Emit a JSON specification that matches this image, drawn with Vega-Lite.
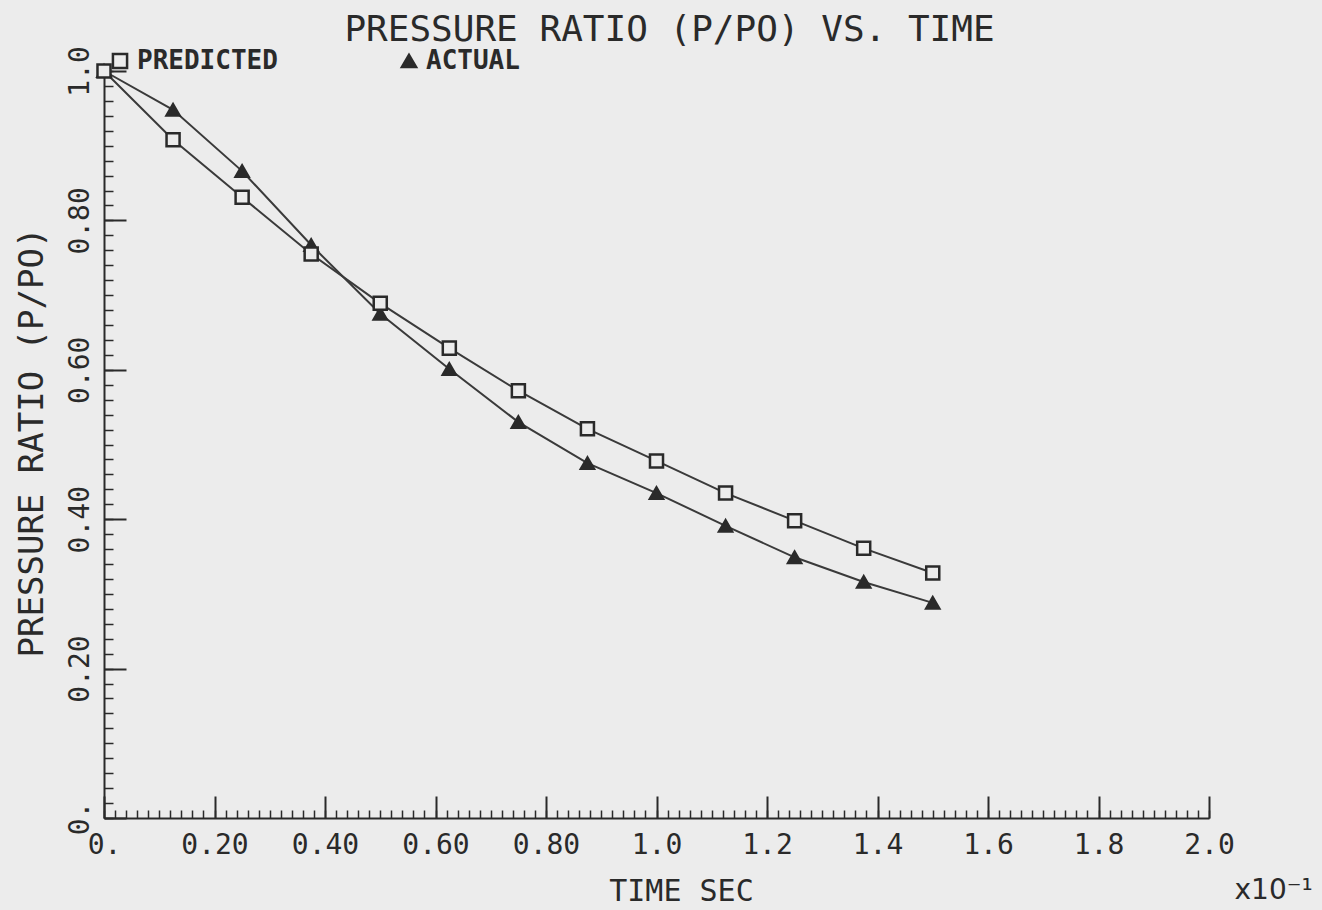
{
  "$schema": "https://vega.github.io/schema/vega-lite/v6.json",
  "width": 1105,
  "height": 747,
  "autosize": "none",
  "padding": {"left": 104, "top": 71, "right": 113, "bottom": 92},
  "background": "#ececec",
  "config": {
    "view": {"stroke": null},
    "font": "DejaVu Sans Mono",
    "axis": {"grid": false}
  },
  "title": {
    "text": "PRESSURE RATIO (P/PO) VS. TIME",
    "font": "DejaVu Sans Mono",
    "fontSize": 36,
    "fontWeight": "normal",
    "color": "#2a2a2a",
    "anchor": "middle",
    "baseline": "alphabetic",
    "dx": 13,
    "offset": -31
  },
  "data": {
    "values": [
      {"t": 0, "p": 1.0, "series": "ACTUAL"},
      {"t": 0.125, "p": 0.948, "series": "ACTUAL"},
      {"t": 0.25, "p": 0.866, "series": "ACTUAL"},
      {"t": 0.375, "p": 0.767, "series": "ACTUAL"},
      {"t": 0.5, "p": 0.675, "series": "ACTUAL"},
      {"t": 0.625, "p": 0.601, "series": "ACTUAL"},
      {"t": 0.75, "p": 0.530, "series": "ACTUAL"},
      {"t": 0.875, "p": 0.475, "series": "ACTUAL"},
      {"t": 1.0, "p": 0.435, "series": "ACTUAL"},
      {"t": 1.125, "p": 0.391, "series": "ACTUAL"},
      {"t": 1.25, "p": 0.349, "series": "ACTUAL"},
      {"t": 1.375, "p": 0.316, "series": "ACTUAL"},
      {"t": 1.5, "p": 0.288, "series": "ACTUAL"},
      {"t": 0, "p": 1.0, "series": "PREDICTED"},
      {"t": 0.125, "p": 0.908, "series": "PREDICTED"},
      {"t": 0.25, "p": 0.831, "series": "PREDICTED"},
      {"t": 0.375, "p": 0.755, "series": "PREDICTED"},
      {"t": 0.5, "p": 0.689, "series": "PREDICTED"},
      {"t": 0.625, "p": 0.629, "series": "PREDICTED"},
      {"t": 0.75, "p": 0.572, "series": "PREDICTED"},
      {"t": 0.875, "p": 0.521, "series": "PREDICTED"},
      {"t": 1.0, "p": 0.478, "series": "PREDICTED"},
      {"t": 1.125, "p": 0.435, "series": "PREDICTED"},
      {"t": 1.25, "p": 0.398, "series": "PREDICTED"},
      {"t": 1.375, "p": 0.361, "series": "PREDICTED"},
      {"t": 1.5, "p": 0.328, "series": "PREDICTED"}
    ]
  },
  "layer": [
    {
      "mark": {"type": "line", "stroke": "#3a3a3a", "strokeWidth": 2},
      "encoding": {
        "x": {
          "field": "t", "type": "quantitative",
          "scale": {"domain": [0, 2], "nice": false, "zero": false},
          "axis": {
            "orient": "bottom",
            "values": [0, 0.2, 0.4, 0.6, 0.8, 1.0, 1.2, 1.4, 1.6, 1.8, 2.0],
            "labelExpr": "datum.value == 0 ? '0.' : (datum.value < 0.9 ? format(datum.value, '.2f') : format(datum.value, '.1f'))",
            "ticks": false,
            "domain": true, "domainColor": "#2a2a2a", "domainWidth": 2,
            "labelFont": "DejaVu Sans Mono", "labelFontSize": 28, "labelColor": "#2a2a2a",
            "labelBaseline": "alphabetic", "labelPadding": 35,
            "labelFlush": false, "labelOverlap": false,
            "title": "TIME SEC",
            "titleFont": "DejaVu Sans Mono", "titleFontSize": 30, "titleFontWeight": "normal", "titleColor": "#2a2a2a",
            "titleX": 577, "titleY": 82, "titleAlign": "center", "titleBaseline": "alphabetic"
          }
        },
        "y": {
          "field": "p", "type": "quantitative",
          "scale": {"domain": [0, 1], "nice": false},
          "axis": {
            "orient": "left",
            "values": [0, 0.2, 0.4, 0.6, 0.8, 1.0],
            "labelExpr": "datum.value == 0 ? '0.' : (datum.value < 0.9 ? format(datum.value, '.2f') : format(datum.value, '.1f'))",
            "ticks": false,
            "domain": true, "domainColor": "#2a2a2a", "domainWidth": 2,
            "labelFont": "DejaVu Sans Mono", "labelFontSize": 28, "labelColor": "#2a2a2a",
            "labelAngle": -90, "labelAlign": "center", "labelBaseline": "alphabetic", "labelPadding": 16,
            "labelFlush": false, "labelOverlap": false,
            "title": "PRESSURE RATIO (P/PO)",
            "titleFont": "DejaVu Sans Mono", "titleFontSize": 34, "titleFontWeight": "normal", "titleColor": "#2a2a2a",
            "titleAngle": -90, "titleX": -62, "titleY": 371, "titleAlign": "center", "titleBaseline": "alphabetic"
          }
        },
        "detail": {"field": "series"}
      }
    },
    {
      "mark": {"type": "point", "size": 170, "strokeWidth": 2.5, "opacity": 1, "filled": false},
      "encoding": {
        "x": {
          "field": "t", "type": "quantitative",
          "axis": {
            "orient": "bottom",
            "values": [0, 0.2, 0.4, 0.6, 0.8, 1.0, 1.2, 1.4, 1.6, 1.8, 2.0],
            "labels": false, "domain": false, "title": null,
            "ticks": true, "tickSize": -22, "tickWidth": 2, "tickColor": "#2a2a2a"
          }
        },
        "y": {
          "field": "p", "type": "quantitative",
          "axis": {
            "orient": "left",
            "values": [0, 0.2, 0.4, 0.6, 0.8, 1.0],
            "labels": false, "domain": false, "title": null,
            "ticks": true, "tickSize": -22, "tickWidth": 2, "tickColor": "#2a2a2a"
          }
        },
        "shape": {
          "field": "series", "type": "nominal",
          "scale": {"domain": ["PREDICTED", "ACTUAL"], "range": ["square", "triangle-up"]},
          "legend": {
            "title": null, "orient": "none", "legendX": 3, "legendY": -23,
            "direction": "horizontal", "columnPadding": 118, "padding": 0,
            "symbolSize": 200, "symbolStrokeWidth": 2.5,
            "labelFont": "DejaVu Sans Mono", "labelFontSize": 26, "labelFontWeight": "bold", "labelColor": "#2a2a2a",
            "labelOffset": 4, "labelLimit": 400
          }
        },
        "fill": {
          "field": "series", "type": "nominal",
          "scale": {"domain": ["PREDICTED", "ACTUAL"], "range": ["#ececec", "#2a2a2a"]},
          "legend": {
            "title": null, "orient": "none", "legendX": 3, "legendY": -23,
            "direction": "horizontal", "columnPadding": 118, "padding": 0,
            "symbolSize": 200, "symbolStrokeWidth": 2.5,
            "labelFont": "DejaVu Sans Mono", "labelFontSize": 26, "labelFontWeight": "bold", "labelColor": "#2a2a2a",
            "labelOffset": 4, "labelLimit": 400
          }
        },
        "stroke": {
          "field": "series", "type": "nominal",
          "scale": {"domain": ["PREDICTED", "ACTUAL"], "range": ["#2a2a2a", "#2a2a2a"]},
          "legend": {
            "title": null, "orient": "none", "legendX": 3, "legendY": -23,
            "direction": "horizontal", "columnPadding": 118, "padding": 0,
            "symbolSize": 200, "symbolStrokeWidth": 2.5,
            "labelFont": "DejaVu Sans Mono", "labelFontSize": 26, "labelFontWeight": "bold", "labelColor": "#2a2a2a",
            "labelOffset": 4, "labelLimit": 400
          }
        }
      }
    },
    {
      "mark": {"type": "point", "opacity": 0},
      "encoding": {
        "x": {
          "field": "t", "type": "quantitative",
          "axis": {
            "orient": "bottom",
            "values": [0, 0.02, 0.04, 0.06, 0.08, 0.1, 0.12, 0.14, 0.16, 0.18, 0.2, 0.22, 0.24, 0.26, 0.28, 0.3, 0.32, 0.34, 0.36, 0.38, 0.4, 0.42, 0.44, 0.46, 0.48, 0.5, 0.52, 0.54, 0.56, 0.58, 0.6, 0.62, 0.64, 0.66, 0.68, 0.7, 0.72, 0.74, 0.76, 0.78, 0.8, 0.82, 0.84, 0.86, 0.88, 0.9, 0.92, 0.94, 0.96, 0.98, 1.0, 1.02, 1.04, 1.06, 1.08, 1.1, 1.12, 1.14, 1.16, 1.18, 1.2, 1.22, 1.24, 1.26, 1.28, 1.3, 1.32, 1.34, 1.36, 1.38, 1.4, 1.42, 1.44, 1.46, 1.48, 1.5, 1.52, 1.54, 1.56, 1.58, 1.6, 1.62, 1.64, 1.66, 1.68, 1.7, 1.72, 1.74, 1.76, 1.78, 1.8, 1.82, 1.84, 1.86, 1.88, 1.9, 1.92, 1.94, 1.96, 1.98, 2.0],
            "labels": false, "domain": false,
            "ticks": true, "tickSize": -8, "tickWidth": 1.5, "tickColor": "#2a2a2a",
            "title": "x10⁻¹",
            "titleFont": "DejaVu Sans", "titleFontSize": 28, "titleFontWeight": "normal", "titleColor": "#2a2a2a",
            "titleX": 1130, "titleY": 80, "titleAlign": "left", "titleBaseline": "alphabetic"
          }
        },
        "y": {
          "field": "p", "type": "quantitative",
          "axis": {
            "orient": "left",
            "values": [0, 0.02, 0.04, 0.06, 0.08, 0.1, 0.12, 0.14, 0.16, 0.18, 0.2, 0.22, 0.24, 0.26, 0.28, 0.3, 0.32, 0.34, 0.36, 0.38, 0.4, 0.42, 0.44, 0.46, 0.48, 0.5, 0.52, 0.54, 0.56, 0.58, 0.6, 0.62, 0.64, 0.66, 0.68, 0.7, 0.72, 0.74, 0.76, 0.78, 0.8, 0.82, 0.84, 0.86, 0.88, 0.9, 0.92, 0.94, 0.96, 0.98, 1.0],
            "labels": false, "domain": false, "title": null,
            "ticks": true, "tickSize": -9, "tickWidth": 1.5, "tickColor": "#2a2a2a"
          }
        }
      }
    }
  ],
  "resolve": {"axis": {"x": "independent", "y": "independent"}}
}
